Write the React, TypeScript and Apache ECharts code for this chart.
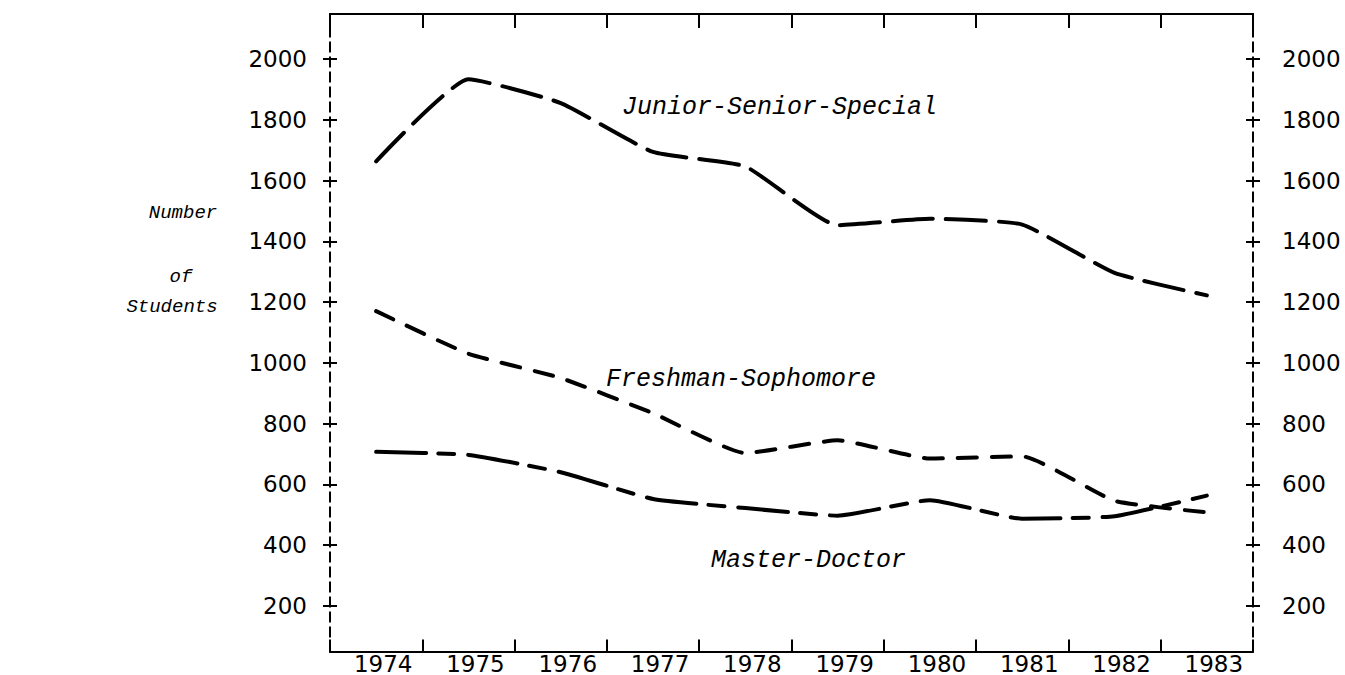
import React, { useEffect, useRef } from "react";
import * as echarts from "echarts";

const years = ["1974", "1975", "1976", "1977", "1978", "1979", "1980", "1981", "1982", "1983"];
const juniorSeniorSpecial = [1663, 1933, 1855, 1694, 1646, 1453, 1474, 1455, 1296, 1222];
const freshmanSophomore = [1170, 1030, 950, 834, 703, 745, 685, 692, 546, 508];
const masterDoctor = [707, 697, 640, 552, 522, 497, 548, 487, 495, 563];
const yTickValues = [200, 400, 600, 800, 1000, 1200, 1400, 1600, 1800, 2000];
const seriesNames = ["Junior-Senior-Special", "Freshman-Sophomore", "Master-Doctor"];
const axisTitle = ["Number", "of", "Students"];

const Y_MIN = 50;
const Y_MAX = 2148;
const TICK_FONT = '"DejaVu Sans", sans-serif';
const MONO = '"Liberation Mono", "Courier New", monospace';

function yAxisDef(position: "left" | "right", inside: boolean, showLabel: boolean, margin: number) {
  return {
    type: "value",
    position,
    min: Y_MIN,
    max: Y_MAX,
    splitLine: { show: false },
    axisLine: { show: true, lineStyle: { color: "#000", width: 2, type: [9, 6] } },
    axisTick: {
      show: true,
      inside,
      length: 7,
      customValues: yTickValues,
      lineStyle: { color: "#000", width: 2 },
    },
    axisLabel: {
      show: showLabel,
      customValues: yTickValues,
      formatter: (v: number) => String(v),
      margin,
      color: "#000",
      fontSize: 23,
      fontFamily: TICK_FONT,
    },
  };
}

export default function App() {
  const ref = useRef<HTMLDivElement>(null);
  useEffect(() => {
    if (!ref.current) return;
    const chart = echarts.init(ref.current, null, { renderer: "svg" });
    const lineSeries = (name: string, data: number[], dash: number[]) => ({
      name,
      type: "line",
      data,
      xAxisIndex: 0,
      yAxisIndex: 0,
      showSymbol: false,
      symbol: "none",
      smooth: 0.15,
      lineStyle: { color: "#000", width: 4, type: dash, cap: "round" },
    });
    const labelText = (text: string, x: number, y: number, size: number, align: string) => ({
      type: "text",
      x,
      y,
      style: {
        text,
        fontSize: size,
        fontFamily: MONO,
        fontStyle: "italic",
        fill: "#000",
        textAlign: align,
        textVerticalAlign: "middle",
      },
    });
    chart.setOption({
      animation: false,
      backgroundColor: "#fff",
      grid: { left: 330, right: 92, top: 14, bottom: 22, containLabel: false },
      xAxis: [
        {
          type: "category",
          position: "bottom",
          data: years,
          boundaryGap: true,
          axisLine: { show: true, lineStyle: { color: "#000", width: 2 } },
          axisTick: { show: true, inside: true, length: 12, lineStyle: { color: "#000", width: 2 } },
          axisLabel: {
            color: "#000",
            fontSize: 23,
            fontFamily: TICK_FONT,
            margin: 3,
            lineHeight: 18,
            padding: [0, 0, 0, 14],
          },
          splitLine: { show: false },
        },
        {
          type: "category",
          position: "top",
          data: years,
          boundaryGap: true,
          axisLine: { show: true, lineStyle: { color: "#000", width: 2 } },
          axisTick: { show: true, inside: true, length: 14, lineStyle: { color: "#000", width: 2 } },
          axisLabel: { show: false },
          splitLine: { show: false },
        },
      ],
      yAxis: [
        yAxisDef("left", false, true, 23),
        yAxisDef("left", true, false, 8),
        yAxisDef("right", false, true, 29),
        yAxisDef("right", true, false, 8),
      ],
      series: [
        lineSeries(seriesNames[0], juniorSeniorSpecial, [40, 13]),
        lineSeries(seriesNames[1], freshmanSophomore, [19, 15]),
        lineSeries(seriesNames[2], masterDoctor, [50, 12, 16, 14]),
      ],
      graphic: [
        labelText(seriesNames[0], 622, 107, 25, "left"),
        labelText(seriesNames[1], 606, 379, 25, "left"),
        labelText(seriesNames[2], 711, 560, 25, "left"),
        labelText(axisTitle[0], 183, 213, 19, "center"),
        labelText(axisTitle[1], 181, 277, 19, "center"),
        labelText(axisTitle[2], 172, 307, 19, "center"),
      ],
    });
    return () => chart.dispose();
  }, []);
  return <div ref={ref} style={{ position: "fixed", left: 0, top: 0, width: 1345, height: 675 }} />;
}
